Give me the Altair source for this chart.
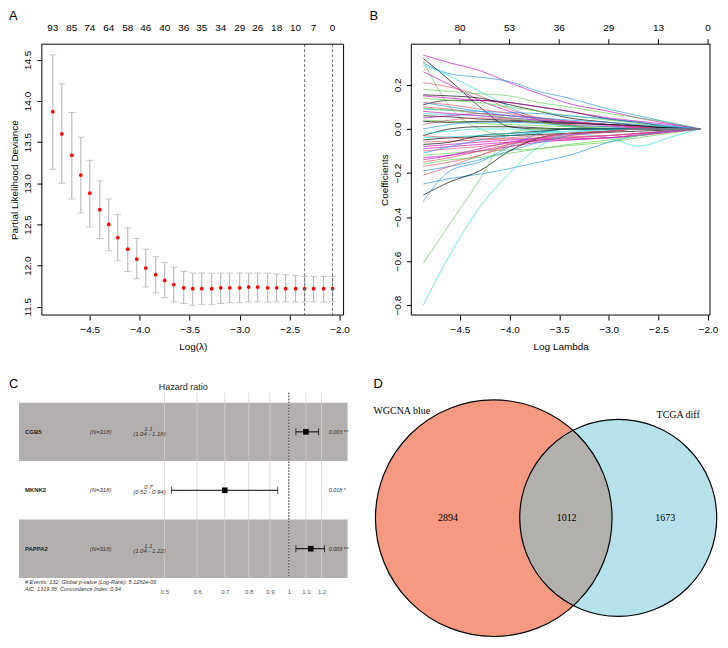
import altair as alt
import pandas as pd

SANS = "Liberation Sans"
SERIF = "Liberation Serif"

# ---------------- Panel A : cross-validation curve ----------------
A_LOGLAM = [-4.87, -4.78, -4.68, -4.59, -4.50, -4.40, -4.31, -4.22, -4.12, -4.03,
            -3.94, -3.84, -3.75, -3.66, -3.56, -3.47, -3.38, -3.28, -3.19, -3.10,
            -3.00, -2.91, -2.82, -2.72, -2.63, -2.54, -2.44, -2.35, -2.26, -2.16, -2.07]
A_CVM = [13.87, 13.60, 13.34, 13.10, 12.88, 12.68, 12.50, 12.34, 12.20, 12.08,
         11.97, 11.89, 11.82, 11.77, 11.73, 11.72, 11.72, 11.72, 11.73, 11.73,
         11.73, 11.74, 11.74, 11.73, 11.73, 11.72, 11.72, 11.72, 11.72, 11.72, 11.72]
A_CVUP = [14.56, 14.21, 13.86, 13.56, 13.28, 13.03, 12.81, 12.62, 12.46, 12.33,
          12.20, 12.11, 12.04, 11.98, 11.93, 11.91, 11.91, 11.91, 11.91, 11.91,
          11.91, 11.91, 11.91, 11.91, 11.90, 11.89, 11.88, 11.87, 11.87, 11.87, 11.87]
A_CVLO = [13.17, 13.00, 12.81, 12.64, 12.47, 12.33, 12.18, 12.06, 11.93, 11.84,
          11.74, 11.67, 11.61, 11.56, 11.54, 11.52, 11.53, 11.53, 11.54, 11.55,
          11.55, 11.56, 11.56, 11.56, 11.56, 11.56, 11.56, 11.56, 11.56, 11.56, 11.56]
A_TOP_POS = [-4.87, -4.68, -4.50, -4.31, -4.12, -3.94, -3.75, -3.56,
             -3.38, -3.19, -3.00, -2.82, -2.63, -2.44, -2.26, -2.07]
A_TOP_LAB = ["93", "85", "74", "64", "58", "46", "40", "36",
             "35", "34", "29", "26", "18", "10", "7", "0"]
A_VLINES = [-2.35, -2.07]
X_TICKS = [-4.5, -4.0, -3.5, -3.0, -2.5, -2.0]
A_Y_TICKS = [11.5, 12.0, 12.5, 13.0, 13.5, 14.0, 14.5]

# ---------------- Panel B : coefficient paths ----------------
BLACK, RED, GREEN, BLUE, CYAN, MAGENTA = "#000000", "#DF536B", "#61D04F", "#2297E6", "#28E2E5", "#CD0BBC"
B_KNOTS = [-4.87, -4.6, -4.3, -4.0, -3.7, -3.4, -3.0, -2.7, -2.4, -2.08]
B_PATHS = [
    (MAGENTA, [0.335, 0.30, 0.265, 0.21, 0.16, 0.115, 0.08, 0.05, 0.025, 0]),
    (BLUE,    [0.30, 0.25, 0.235, 0.215, 0.17, 0.14, 0.09, 0.06, 0.03, 0]),
    (BLACK,   [0.32, 0.22, 0.10, 0.01, 0, 0, 0, 0, 0, 0]),
    (GREEN,   [0.31, 0.10, 0.0, -0.03, -0.02, 0, 0, 0, 0, 0]),
    (CYAN,    [0.29, 0.24, 0.17, 0.10, 0.04, 0.01, 0, 0, 0, 0]),
    (RED,     [0.21, 0.19, 0.15, 0.09, 0.05, 0.02, 0, 0, 0, 0]),
    (MAGENTA, [0.26, 0.20, 0.13, 0.08, 0.04, 0.015, 0, 0, 0, 0]),
    (GREEN,   [0.18, 0.17, 0.16, 0.15, 0.12, 0.10, 0.07, 0.05, 0.03, 0]),
    (BLACK,   [0.11, 0.13, 0.13, 0.12, 0.10, 0.08, 0.045, 0.03, 0.01, 0]),
    (BLACK,   [0.155, 0.15, 0.14, 0.11, 0.08, 0.05, 0.03, 0.015, 0.005, 0]),
    (MAGENTA, [0.15, 0.14, 0.13, 0.12, 0.10, 0.08, 0.05, 0.035, 0.02, 0]),
    (GREEN,   [0.14, 0.13, 0.12, 0.10, 0.08, 0.06, 0.04, 0.025, 0.01, 0]),
    (BLUE,    [0.09, 0.085, 0.08, 0.075, 0.07, 0.06, 0.045, 0.03, 0.015, 0]),
    (RED,     [0.10, 0.09, 0.07, 0.06, 0.045, 0.03, 0.02, 0.01, 0, 0]),
    (CYAN,    [0.07, 0.065, 0.06, 0.05, 0.04, 0.03, 0.02, 0.01, 0.005, 0]),
    (BLACK,   [0.06, 0.055, 0.045, 0.04, 0.035, 0.03, 0.02, 0.01, 0.005, 0]),
    (MAGENTA, [0.05, 0.06, 0.07, 0.06, 0.05, 0.035, 0.02, 0.01, 0, 0]),
    (GREEN,   [0.04, 0.035, 0.025, 0.02, 0.015, 0.01, 0.005, 0, 0, 0]),
    (RED,     [0.02, 0.04, 0.05, 0.045, 0.03, 0.02, 0.01, 0.005, 0, 0]),
    (BLUE,    [0.0, 0.02, 0.03, 0.03, 0.025, 0.015, 0.01, 0, 0, 0]),
    (RED,     [0.12, 0.11, 0.09, 0.07, 0.05, 0.035, 0.02, 0.01, 0, 0]),
    (BLUE,    [0.12, 0.10, 0.08, 0.06, 0.05, 0.04, 0.03, 0.02, 0.01, 0]),
    (MAGENTA, [0.08, 0.07, 0.06, 0.05, 0.04, 0.03, 0.015, 0.005, 0, 0]),
    (BLACK,   [0.035, 0.03, 0.035, 0.035, 0.03, 0.025, 0.02, 0.015, 0.005, 0]),
    (GREEN,   [0.095, 0.085, 0.07, 0.05, 0.03, 0.015, 0, 0, 0, 0]),
    (BLACK,   [-0.03, 0.0, 0.01, 0.01, 0.005, 0, 0, 0, 0, 0]),
    (CYAN,    [-0.02, -0.01, 0.0, 0.0, -0.01, -0.02, -0.04, -0.078, -0.04, 0]),
    (BLACK,   [-0.05, -0.04, -0.035, -0.03, -0.025, -0.02, -0.015, -0.01, -0.005, 0]),
    (RED,     [-0.06, -0.055, -0.05, -0.045, -0.04, -0.035, -0.03, -0.02, -0.01, 0]),
    (MAGENTA, [-0.08, -0.07, -0.06, -0.05, -0.045, -0.04, -0.03, -0.02, -0.01, 0]),
    (RED,     [-0.10, -0.09, -0.08, -0.065, -0.055, -0.05, -0.04, -0.03, -0.015, 0]),
    (GREEN,   [-0.12, -0.11, -0.10, -0.095, -0.09, -0.075, -0.06, -0.04, -0.02, 0]),
    (MAGENTA, [-0.13, -0.12, -0.10, -0.08, -0.06, -0.05, -0.04, -0.03, -0.015, 0]),
    (RED,     [-0.15, -0.13, -0.10, -0.07, -0.05, -0.04, -0.03, -0.02, -0.01, 0]),
    (BLUE,    [-0.19, -0.17, -0.14, -0.10, -0.06, -0.03, -0.01, 0, 0, 0]),
    (RED,     [-0.17, -0.15, -0.12, -0.08, -0.05, -0.03, -0.015, 0, 0, 0]),
    (MAGENTA, [-0.14, -0.12, -0.09, -0.06, -0.04, -0.025, -0.01, 0, 0, 0]),
    (BLUE,    [-0.25, -0.225, -0.205, -0.18, -0.15, -0.12, -0.06, -0.03, -0.01, 0]),
    (BLACK,   [-0.30, -0.24, -0.19, -0.10, -0.04, -0.02, -0.01, 0, 0, 0]),
    (BLUE,    [-0.33, -0.19, -0.15, -0.08, -0.02, 0, 0, 0, 0, 0]),
    (GREEN,   [-0.61, -0.43, -0.23, -0.02, 0, 0, 0, 0, 0, 0]),
    (CYAN,    [-0.80, -0.57, -0.355, -0.20, -0.08, -0.02, 0, 0, 0, 0]),
    (RED,     [-0.21, -0.17, -0.12, -0.07, -0.04, -0.02, -0.01, 0, 0, 0]),
    (GREEN,   [-0.16, -0.14, -0.13, -0.11, -0.09, -0.07, -0.05, -0.03, -0.01, 0]),
    (MAGENTA, [-0.09, -0.08, -0.07, -0.06, -0.05, -0.045, -0.04, -0.025, -0.01, 0]),
    (BLUE,    [-0.11, -0.08, -0.05, -0.03, -0.015, 0, 0, 0, 0, 0]),
    (BLACK,   [-0.07, -0.06, -0.03, -0.02, -0.01, 0, 0, 0, 0, 0]),
    (CYAN,    [-0.04, -0.035, -0.03, -0.02, -0.015, -0.01, -0.005, 0, 0, 0]),
    (RED,     [-0.03, -0.04, -0.045, -0.04, -0.03, -0.02, -0.01, 0, 0, 0]),
]
B_TOP_POS = [-4.5, -4.0, -3.5, -3.0, -2.5, -2.0]
B_TOP_LAB = ["80", "53", "36", "29", "13", "0"]
B_Y_TICKS = [-0.8, -0.6, -0.4, -0.2, 0.0, 0.2]

# ---------------- Panel C : forest plot ----------------
C_GENES = ["CGB5", "MKNK2", "PAPPA2"]
C_ROW = [1, 2, 3]
C_N = ["(N=318)", "(N=318)", "(N=318)"]
C_HR = [1.10, 0.70, 1.13]
C_LO = [1.04, 0.52, 1.04]
C_HI = [1.18, 0.94, 1.22]
C_HR_TXT = ["1.1", "0.7", "1.1"]
C_CI_TXT = ["(1.04 - 1.18)", "(0.52 - 0.94)", "(1.04 - 1.22)"]
C_P_TXT = ["0.003 **", "0.018 *", "0.003 **"]
C_BAND_ROWS = [1, 3]
C_TICKS = [0.5, 0.6, 0.7, 0.8, 0.9, 1.0, 1.1, 1.2]
C_FOOT = ["# Events: 132; Global p-value (Log-Rank): 5.1282e-06",
          "AIC: 1319.38; Concordance Index: 0.64"]

# ---------------- Panel D : Venn diagram ----------------
D_SETS = ["WGCNA blue", "TCGA diff"]
D_COUNTS = ["2894", "1012", "1673"]
D_CX = [492.8, 617.8]
D_CY = [521.0, 520.7]
D_R = [118.8, 98.9]
D_FILL = ["#F59A80", "#6DC5D7"]
D_LABEL_X = [372, 678]
D_LABEL_Y = [413.0, 417.0]
D_COUNT_X = [446.8, 566.0, 665.0]
D_COUNT_Y = [521.0, 521.0, 521.0]

# ---------------- helpers ----------------
def frame(w, h):
    return alt.Chart(pd.DataFrame({"k": [0]})).mark_rect(
        filled=False, stroke="black", strokeWidth=1).encode(
        x=alt.value(0), x2=alt.value(w), y=alt.value(0), y2=alt.value(h))

def letter(t, dx, dy, font=SANS, size=13):
    return alt.Chart(pd.DataFrame({"t": [t]})).mark_text(
        font=font, fontSize=size, align="left", baseline="top", color="black").encode(
        text="t:N", x=alt.value(dx), y=alt.value(dy))

AX = dict(domain=False, grid=False, tickColor="black", tickSize=5,
          labelFont=SANS, labelFontSize=10, labelColor="black",
          titleFont=SANS, titleFontSize=10, titleFontWeight="normal", titleColor="black")

def xaxis(title):
    return alt.Axis(values=X_TICKS, format=".1f", title=title, labelPadding=5,
                    titlePadding=7, labelFlush=False, **AX)

def yaxis(title, vals):
    return alt.Axis(values=vals, format=".1f", title=title, labelAngle=270,
                    labelAlign="center", labelBaseline="bottom", labelPadding=4,
                    titlePadding=3, **AX)

# ---------------- build A ----------------
WA, HA = 303, 272
dfA = pd.DataFrame({"loglam": A_LOGLAM, "cvm": A_CVM, "cvup": A_CVUP, "cvlo": A_CVLO})
xA_sc = alt.Scale(domain=[-4.98, -1.96], nice=False, zero=False)
yA_sc = alt.Scale(domain=[11.40, 14.69], nice=False, zero=False)
def XA(f):
    return alt.X(f, type="quantitative", scale=xA_sc, axis=xaxis("Log(λ)"))
def YA(f):
    return alt.Y(f, type="quantitative", scale=yA_sc,
                 axis=yaxis("Partial Likelihood Deviance", A_Y_TICKS))

a_err = alt.Chart(dfA).mark_rule(color="#B0B0B0", strokeWidth=1).encode(
    x=XA("loglam"), y=YA("cvlo"), y2="cvup:Q")
a_cap1 = alt.Chart(dfA).mark_tick(orient="horizontal", size=7, thickness=1, color="#B0B0B0").encode(
    x=XA("loglam"), y=YA("cvup"))
a_cap2 = alt.Chart(dfA).mark_tick(orient="horizontal", size=7, thickness=1, color="#B0B0B0").encode(
    x=XA("loglam"), y=YA("cvlo"))
a_pts = alt.Chart(dfA).mark_circle(color="#FF0000", size=14, opacity=1).encode(
    x=XA("loglam"), y=YA("cvm"))
a_vl = alt.Chart(pd.DataFrame({"loglam": A_VLINES})).mark_rule(
    color="#707070", strokeDash=[3, 2], strokeWidth=1).encode(x=XA("loglam"))
a_top = alt.Chart(pd.DataFrame({"loglam": A_TOP_POS, "lab": A_TOP_LAB})).mark_text(
    font=SANS, fontSize=10, baseline="middle", color="black").encode(
    x=XA("loglam"), y=alt.value(-16), text="lab:N")
panelA = alt.layer(a_err, a_cap1, a_cap2, a_pts, a_vl, a_top, frame(WA, HA),
                   letter("A", -33, -34)).properties(width=WA, height=HA)

# ---------------- build B ----------------
WB, HB = 300, 272
rows = []
for i, (col, vals) in enumerate(B_PATHS):
    for xk, yv in zip(B_KNOTS, vals):
        rows.append({"id": i, "loglam": xk, "coef": yv, "col": col})
dfB = pd.DataFrame(rows)
xB_sc = alt.Scale(domain=[-4.99, -1.98], nice=False, zero=False)
yB_sc = alt.Scale(domain=[-0.845, 0.385], nice=False, zero=False)
def XB(f):
    return alt.X(f, type="quantitative", scale=xB_sc, axis=xaxis("Log Lambda"))
b_lines = alt.Chart(dfB).mark_line(strokeWidth=0.8, opacity=0.85, interpolate="monotone").encode(
    x=XB("loglam"),
    y=alt.Y("coef:Q", scale=yB_sc, axis=yaxis("Coefficients", B_Y_TICKS)),
    detail="id:N", color=alt.Color("col:N", scale=None))
dfBt = pd.DataFrame({"loglam": B_TOP_POS, "lab": B_TOP_LAB})
b_top = alt.Chart(dfBt).mark_text(font=SANS, fontSize=10, baseline="middle", color="black").encode(
    x=XB("loglam"), y=alt.value(-16), text="lab:N")
b_tick = alt.Chart(dfBt).mark_rule(color="black", strokeWidth=1).encode(
    x=XB("loglam"), y=alt.value(-5), y2=alt.value(0))
panelB = alt.layer(b_lines, b_top, b_tick, frame(WB, HB),
                   letter("B", -42, -34)).properties(width=WB, height=HB)

# ---------------- build C ----------------
# plot area starts where panel A's plot starts; the table columns sit to its left
WC, HC = 307, 186
C_LEFT = -23
xC_sc = alt.Scale(type="log", domain=[0.2527, 1.387], nice=False)
yC_sc = alt.Scale(domain=[0.33, 3.5], reverse=True, nice=False, zero=False)
C_AXIS = alt.Axis(values=C_TICKS, format="~g", domain=False, ticks=False, grid=False,
                  labelFont=SANS, labelFontSize=6, labelColor="#555555", labelPadding=11,
                  labelFlush=False, title=None)
def XC(f):
    return alt.X(f, type="quantitative", scale=xC_sc, axis=C_AXIS)
def YC(f):
    return alt.Y(f, type="quantitative", scale=yC_sc, axis=None)

dfC = pd.DataFrame({"gene": C_GENES, "row": C_ROW, "n": C_N, "hr": C_HR, "lo": C_LO,
                    "hi": C_HI, "hrt": C_HR_TXT, "cit": C_CI_TXT, "pt": C_P_TXT})
dfBand = pd.DataFrame({"r0": [r - 0.5 for r in C_BAND_ROWS], "r1": [r + 0.5 for r in C_BAND_ROWS]})
c_band = alt.Chart(dfBand).mark_rect(color="#B4AFAF").encode(
    x=alt.value(C_LEFT), x2=alt.value(WC), y=YC("r0"), y2="r1:Q")
c_grid = alt.Chart(pd.DataFrame({"hr": C_TICKS})).mark_rule(color="#D4D1D1", strokeWidth=0.8).encode(
    x=XC("hr"))
c_one = alt.Chart(pd.DataFrame({"hr": [1.0]})).mark_rule(
    color="#333333", strokeDash=[1.5, 1.5], strokeWidth=1).encode(x=XC("hr"))
c_ci = alt.Chart(dfC).mark_rule(color="black", strokeWidth=1).encode(
    x=XC("lo"), x2="hi:Q", y=YC("row"))
c_cap1 = alt.Chart(dfC).mark_tick(orient="vertical", size=7, thickness=1, color="black").encode(
    x=XC("lo"), y=YC("row"))
c_cap2 = alt.Chart(dfC).mark_tick(orient="vertical", size=7, thickness=1, color="black").encode(
    x=XC("hi"), y=YC("row"))
c_sq = alt.Chart(dfC).mark_square(size=32, color="black", opacity=1).encode(
    x=XC("hr"), y=YC("row"))
c_gene = alt.Chart(dfC).mark_text(font=SANS, fontSize=6, fontWeight="bold", align="left",
                                  baseline="middle", color="#222222").encode(
    x=alt.value(-17), y=YC("row"), text="gene:N")
c_n = alt.Chart(dfC).mark_text(font=SANS, fontSize=6, fontStyle="italic", align="center",
                               baseline="middle", color="#333333").encode(
    x=alt.value(59), y=YC("row"), text="n:N")
c_hrt = alt.Chart(dfC).mark_text(font=SANS, fontSize=6, fontStyle="italic", align="center",
                                 baseline="middle", dy=-3, color="#333333").encode(
    x=alt.value(107), y=YC("row"), text="hrt:N")
c_cit = alt.Chart(dfC).mark_text(font=SANS, fontSize=6, fontStyle="italic", align="center",
                                 baseline="middle", dy=2, color="#333333").encode(
    x=alt.value(108), y=YC("row"), text="cit:N")
c_p = alt.Chart(dfC).mark_text(font=SANS, fontSize=5.5, fontStyle="italic", align="left",
                               baseline="middle", color="#333333").encode(
    x=alt.value(288), y=YC("row"), text="pt:N")
c_foot = alt.Chart(pd.DataFrame({"t": C_FOOT, "k": [0, 1]})).mark_text(
    font=SANS, fontSize=5.5, fontStyle="italic", align="left", baseline="middle",
    color="#333333").encode(
    x=alt.value(-17), y=alt.Y("k:Q", scale=alt.Scale(domain=[0, 1], range=[HC + 4, HC + 11]), axis=None),
    text="t:N")
c_title = alt.Chart(pd.DataFrame({"t": ["Hazard ratio"]})).mark_text(
    font=SANS, fontSize=9, align="center", baseline="middle", color="#222222").encode(
    x=alt.value(142), y=alt.value(-6), text="t:N")
panelC = alt.layer(c_band, c_grid, c_one, c_ci, c_cap1, c_cap2, c_sq, c_gene, c_n, c_hrt,
                   c_cit, c_p, c_foot, c_title, letter("C", -33, -15)).resolve_scale(
    y="independent").properties(width=WC, height=HC)

# ---------------- build D ----------------
WD, HD = 344, 241
xD_sc = alt.Scale(domain=[372, 716], nice=False, zero=False)
yD_sc = alt.Scale(domain=[395, 636], reverse=True, nice=False, zero=False)
def XD(f):
    return alt.X(f, type="quantitative", scale=xD_sc, axis=None)
def YD(f):
    return alt.Y(f, type="quantitative", scale=yD_sc, axis=None)

# Vega symbol size is the area of the bounding square: (2 r)^2
dfD = pd.DataFrame({"cx": D_CX, "cy": D_CY, "sz": [(2 * r) ** 2 for r in D_R],
                    "fill": D_FILL})
d_left = alt.Chart(dfD.iloc[[0]]).mark_circle(opacity=1).encode(
    x=XD("cx"), y=YD("cy"), size=alt.Size("sz:Q", scale=None),
    color=alt.Color("fill:N", scale=None))
d_right = alt.Chart(dfD.iloc[[1]]).mark_circle(opacity=0.5).encode(
    x=XD("cx"), y=YD("cy"), size=alt.Size("sz:Q", scale=None),
    color=alt.Color("fill:N", scale=None))
d_outline = alt.Chart(dfD).mark_point(shape="circle", filled=False, stroke="black",
                                      strokeWidth=1.2, opacity=1).encode(
    x=XD("cx"), y=YD("cy"), size=alt.Size("sz:Q", scale=None))
dfDl = pd.DataFrame({"x": D_LABEL_X, "y": D_LABEL_Y, "t": D_SETS})
d_lab1 = alt.Chart(dfDl.iloc[[0]]).mark_text(font=SERIF, fontSize=10, align="left",
                                             baseline="middle", color="black").encode(
    x=XD("x"), y=YD("y"), text="t:N")
d_lab2 = alt.Chart(dfDl.iloc[[1]]).mark_text(font=SERIF, fontSize=10, align="center",
                                             baseline="middle", color="black").encode(
    x=XD("x"), y=YD("y"), text="t:N")
d_cnt = alt.Chart(pd.DataFrame({"x": D_COUNT_X, "y": D_COUNT_Y, "t": D_COUNTS})).mark_text(
    font=SERIF, fontSize=10, align="center", baseline="middle", color="black").encode(
    x=XD("x"), y=YD("y"), text="t:N")
panelD = alt.layer(d_left, d_right, d_outline, d_lab1, d_lab2, d_cnt,
                   letter("D", 0, -15)).properties(width=WD, height=HD)

top = alt.hconcat(panelA, panelB, spacing=18)
bottom = alt.hconcat(panelC, panelD, spacing=23)
chart = alt.vconcat(top, bottom, spacing=24).properties(padding=0).configure(
    background="white").configure_view(stroke="transparent")

chart.save("out.html", embed_options={"renderer": "svg", "actions": False})
